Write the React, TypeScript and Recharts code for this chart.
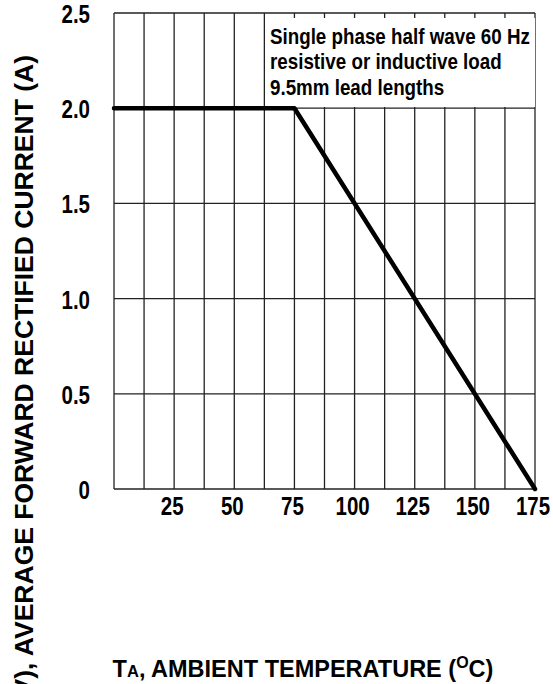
import { CartesianGrid, Line, LineChart, ReferenceArea, XAxis, YAxis } from "recharts";

// derating curve: ambient temperature (°C) vs average forward current (A)
const temps = [0, 75, 175];
const current = [2.0, 2.0, 0];

const xTicks = [0, 12.5, 25, 37.5, 50, 62.5, 75, 87.5, 100, 112.5, 125, 137.5, 150, 162.5, 175];
const xLabels = [25, 50, 75, 100, 125, 150, 175];
const yTicks = [0, 0.5, 1.0, 1.5, 2.0, 2.5];
const yLabels = ["0", "0.5", "1.0", "1.5", "2.0", "2.5"];

const noteLines = [
  "Single phase half wave 60 Hz",
  "resistive or inductive load",
  "9.5mm lead lengths",
];

const data = temps.map((t, i) => ({ t, a: current[i] }));

// no narrow face installed, so squeeze the regular bold one
const FONT = "'Liberation Sans', Arial, sans-serif";
const SQUEEZE = 0.82;

const XTick = ({ x, y, payload }: any) => {
  if (!xLabels.includes(payload.value)) return <g />;
  return (
    <text
      transform={`translate(${x - 2},${y + 26}) scale(${SQUEEZE},1)`}
      textAnchor="middle"
      fontFamily={FONT}
      fontWeight="bold"
      fontSize={25}
      fill="#000"
    >
      {payload.value}
    </text>
  );
};

const YTick = ({ x, y, payload, index }: any) => (
  <text
    transform={`translate(${x},${y + 1}) scale(${SQUEEZE},1)`}
    dy="0.36em"
    textAnchor="end"
    fontFamily={FONT}
    fontWeight="bold"
    fontSize={25}
    fill="#000"
  >
    {yLabels[index] ?? payload.value}
  </text>
);

const XTitle = ({ viewBox }: any) => (
  <text x={viewBox.x + 189} y={viewBox.y + 188} textAnchor="middle" fontFamily={FONT} fontWeight="bold" fontSize={23.5} fill="#000">
    <tspan>T</tspan>
    <tspan fontSize={16.5}>A</tspan>
    <tspan>, AMBIENT TEMPERATURE (</tspan>
    <tspan fontSize={16} dy={-9}>O</tspan>
    <tspan dy={9}>C)</tspan>
  </text>
);

const YTitle = () => (
  <text
    x={33}
    y={55}
    textAnchor="end"
    transform="rotate(-90, 33, 55)"
    fontFamily={FONT}
    fontWeight="bold"
    fontSize={26.5}
    fill="#000"
  >
    I(AV), AVERAGE FORWARD RECTIFIED CURRENT (A)
  </text>
);

const Note = ({ viewBox }: any) => (
  <g transform={`translate(${viewBox.x + 2},${viewBox.y}) scale(0.835,1)`}>
    <text fontFamily={FONT} fontWeight="bold" fontSize={22.5} fill="#000">
      {noteLines.map((line, i) => (
        <tspan key={i} x={0} y={26 + i * 25.5}>
          {line}
        </tspan>
      ))}
    </text>
  </g>
);

export default function App() {
  return (
    <div style={{ position: "absolute", left: 0, top: 0, width: 553, height: 684, background: "#fff" }}>
      <LineChart width={553} height={684} data={data} margin={{ top: 13, right: 18, left: 0, bottom: 0 }}>
        <CartesianGrid stroke="#222" strokeWidth={1.3} />
        <XAxis
          dataKey="t"
          type="number"
          domain={[0, 175]}
          ticks={xTicks}
          interval={0}
          height={195}
          axisLine={false}
          tickLine={false}
          tickSize={0}
          tickMargin={0}
          tick={XTick}
          label={{ content: XTitle }}
        />
        <YAxis
          type="number"
          domain={[0, 2.5]}
          ticks={yTicks}
          interval={0}
          width={114}
          axisLine={false}
          tickLine={false}
          tickSize={0}
          tickMargin={24}
          tick={YTick}
          label={{ content: YTitle }}
        />
        <ReferenceArea x1={64} x2={175} y1={2.006} y2={2.474} fill="#fff" fillOpacity={1} stroke="none" label={{ content: Note }} />
        <Line
          dataKey="a"
          stroke="#000"
          strokeWidth={4.5}
          strokeLinecap="round"
          strokeLinejoin="round"
          dot={false}
          activeDot={false}
          isAnimationActive={false}
        />
      </LineChart>
    </div>
  );
}
